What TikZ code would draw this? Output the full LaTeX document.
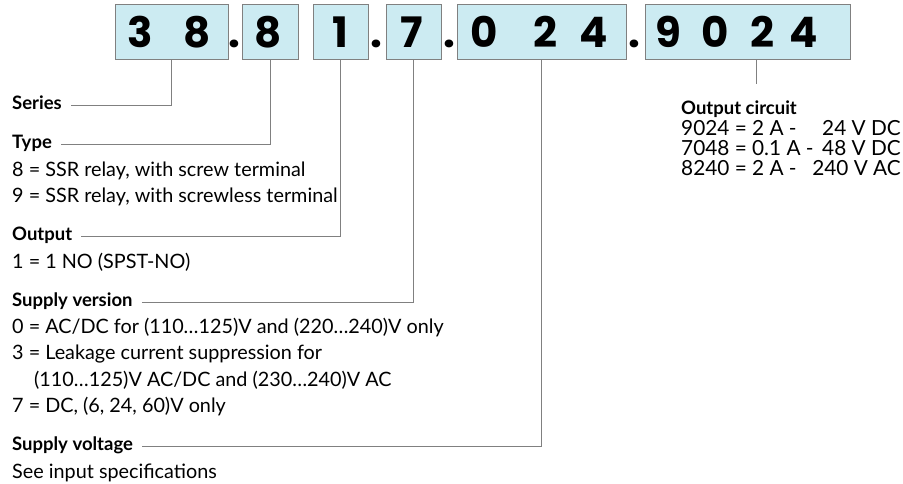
\documentclass[tikz,border=0pt]{standalone}
\usepackage{fontspec}
\setmainfont{Lato}
\newfontfamily\digitfont{Poppins}
\usetikzlibrary{calc}
\definecolor{boxfill}{RGB}{204,235,242}
\definecolor{linegray}{RGB}{128,128,128}
\begin{document}
\begin{tikzpicture}[x=1pt,y=-1pt,
  digbox/.style={draw=linegray, fill=boxfill, line width=0.9pt, inner sep=0pt, minimum height=55pt},
  dig/.style={font=\digitfont\fontsize{42}{42}\selectfont\bfseries, anchor=base, inner sep=0pt},
  head/.style={font=\fontsize{18.5}{20}\selectfont\bfseries, anchor=base west, inner sep=0pt},
  body/.style={font=\fontsize{19.8}{21}\selectfont, anchor=base west, inner sep=0pt},
  rbody/.style={font=\fontsize{20.8}{21}\selectfont, anchor=base west, inner sep=0pt},
  rbodyr/.style={font=\fontsize{20.8}{21}\selectfont, anchor=base east, inner sep=0pt},
  conn/.style={draw=linegray, line width=0.8pt}]
\useasboundingbox (0,0) rectangle (903,484);
% code boxes
\node[digbox, minimum width=113pt] (b1) at (171.5,31.5) {};
\node[digbox, minimum width=56pt]  (b2) at (270,31.5) {};
\node[digbox, minimum width=55pt]  (b3) at (340.5,31.5) {};
\node[digbox, minimum width=55pt]  (b4) at (413.5,31.5) {};
\node[digbox, minimum width=169pt] (b5) at (541.5,31.5) {};
\node[digbox, minimum width=205pt] (b6) at (747.5,31.5) {};
% digits
\node[dig] (d1) at (140,47.5) {3};
\node[dig] (d2) at (197,47.5) {8};
\node[dig] (d3) at (268,47.5) {8};
\node[dig] (d4) at (340,47.5) {1};
\node[dig] (d5) at (412,47.5) {7};
\node[dig] (d6) at (484,47.5) {0};
\node[dig] (d7) at (545,47.5) {2};
\node[dig] (d8) at (594,47.5) {4};
\node[dig] (d9) at (668,47.5) {9};
\node[dig] (d10) at (715,47.5) {0};
\node[dig] (d11) at (762,47.5) {2};
\node[dig] (d12) at (804,47.5) {4};
% dots
\node[dig] (p1) at (234,47.5) {.};
\node[dig] (p2) at (376,47.5) {.};
\node[dig] (p3) at (449,47.5) {.};
\node[dig] (p4) at (634,47.5) {.};
% left texts
\node[head] (hseries) at (12,109.7) {Series};
\node[head] (htype) at (12,148.7) {Type};
\node[body] (t8) at (12,177) {8 = SSR relay, with screw terminal};
\node[body] (t9) at (12,202.5) {9 = SSR relay, with screwless terminal};
\node[head] (hout) at (12,240.7) {Output};
\node[body] (t1) at (12,268.5) {1 = 1 NO (SPST-NO)};
\node[head] (hsv) at (12,306.7) {Supply version};
\node[body] (s0) at (12,333) {0 = AC/DC for (110…125)V and (220…240)V only};
\node[body] (s3) at (12,359.5) {3 = Leakage current suppression for};
\node[body] (s3b) at (34,386) {(110…125)V AC/DC and (230…240)V AC};
\node[body] (s7) at (12,412) {7 = DC, (6, 24, 60)V only};
\node[head] (hsvolt) at (12,450.7) {Supply voltage};
\node[body] (sin) at (12,478) {See input specifications};
% right texts
\node[head] (hoc) at (681,114.5) {Output circuit};
\node[rbody] (o1) at (681,135.5) {9024 = 2 A -};
\node[rbodyr] (o1r) at (901,135.5) {24 V DC};
\node[rbody] (o2) at (681,155.5) {7048 = 0.1 A -};
\node[rbodyr] (o2r) at (901,155.5) {48 V DC};
\node[rbody] (o3) at (681,175.5) {8240 = 2 A -};
\node[rbodyr] (o3r) at (901,175.5) {240 V AC};
% connectors
\draw[conn] ($(hseries.base east)+(9,-4.7)$) -| (b1.south);
\draw[conn] ($(htype.base east)+(9,-4.7)$) -| (b2.south);
\draw[conn] ($(hout.base east)+(9,-4.7)$) -| (b3.south);
\draw[conn] ($(hsv.base east)+(9,-4.7)$) -| (b4.south);
\draw[conn] ($(hsvolt.base east)+(9,-4.7)$) -| (b5.south);
\coordinate (ocend) at (756,84);
\draw[conn] (ocend |- b6.south) -- (ocend);
\end{tikzpicture}
\end{document}
